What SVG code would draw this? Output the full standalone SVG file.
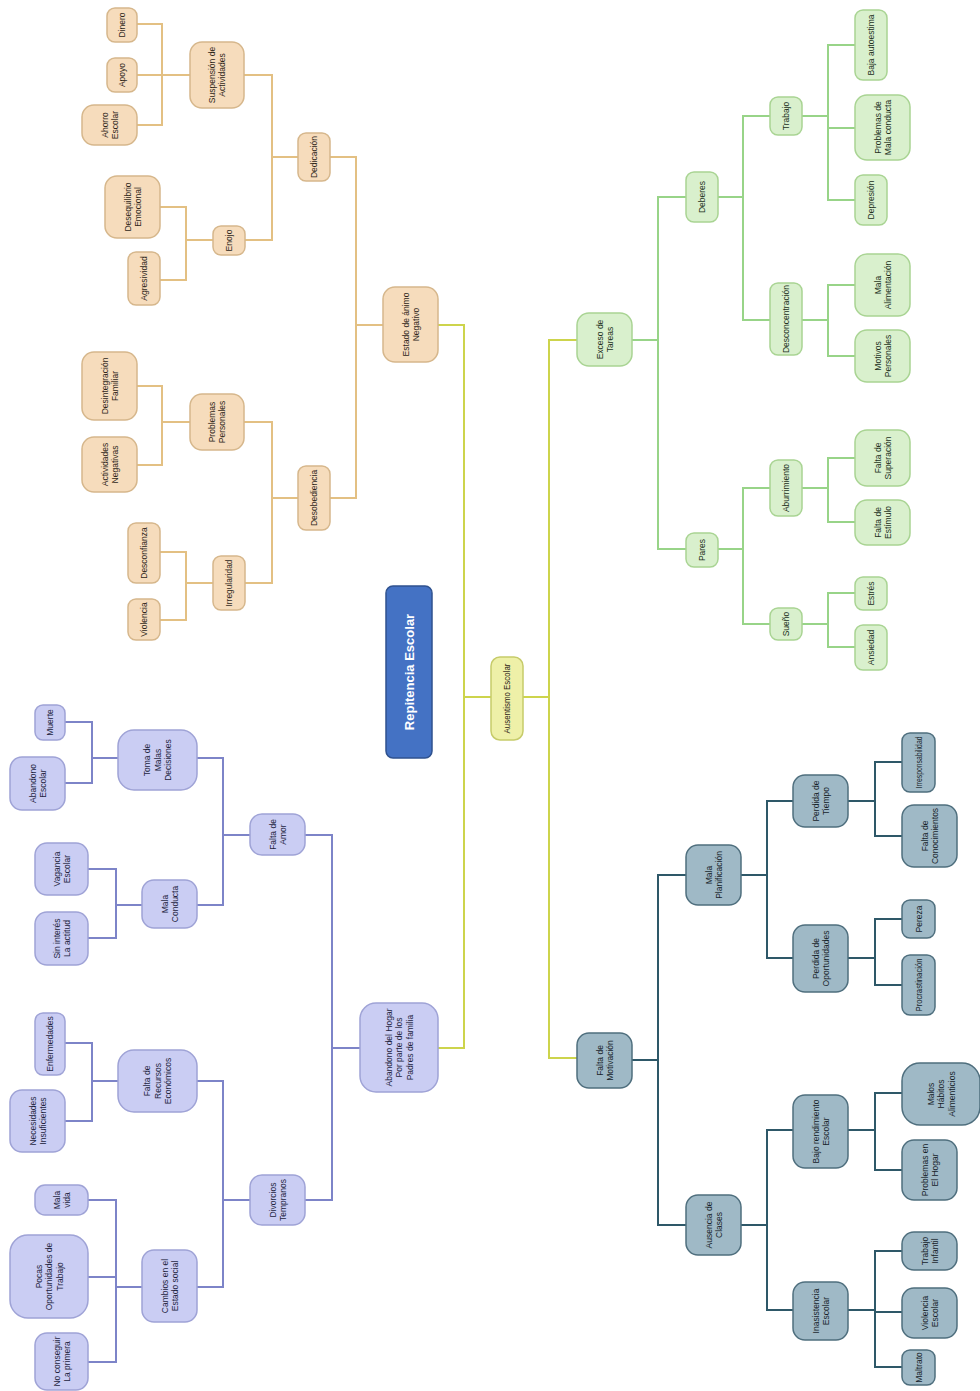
<svg xmlns="http://www.w3.org/2000/svg" width="980" height="1391" viewBox="0 0 980 1391">
<style>
.t{font-family:"Liberation Sans",Arial,sans-serif;font-size:8.5px;text-anchor:middle;dominant-baseline:central;fill:#2e2619}
.o rect{fill:#f6dcbc;stroke:#d6b78c;stroke-width:1.5}
.b rect{fill:#cacdf3;stroke:#9fa3d6;stroke-width:1.5}
.g rect{fill:#d9f0cd;stroke:#a9d493;stroke-width:1.5}
.k rect{fill:#9fb9c6;stroke:#4f6f7e;stroke-width:1.5}
.k text{fill:#17242a}
.b text{fill:#22243e}
.g text{fill:#22301c}
#connectors path{fill:none;stroke-width:2}
.co{stroke:#e3c083}
.cb{stroke:#7d84c8}
.cg{stroke:#98d488}
.ck{stroke:#2e5868}
.cy{stroke:#cdd44c}
</style>
<rect width="980" height="1391" fill="#ffffff"/>
<g id="connectors">
<path class="cy" d="M438,325 H464 V1048 H438"/>
<path class="cy" d="M464,697 H491 M523,697 H549"/>
<path class="cy" d="M577,340 H549 V1058 H577"/>
<path class="co" d="M383,325 H356 M330,157 H356 V498 H330"/>
<path class="co" d="M298,157 H272 M244,75 H272 V240 H245"/>
<path class="co" d="M190,75 H162 M137,24 H162 V125 H137 M137,75 H162"/>
<path class="co" d="M213,240 H186 M160,207 H186 V280 H160"/>
<path class="co" d="M298,498 H272 M244,422 H272 V583 H245"/>
<path class="co" d="M190,422 H162 M137,386 H162 V465 H137"/>
<path class="co" d="M213,583 H186 M160,552 H186 V620 H160"/>
<path class="cb" d="M360,1048 H332 M305,835 H332 V1200 H305"/>
<path class="cb" d="M250,835 H223 M197,758 H223 V905 H197"/>
<path class="cb" d="M118,758 H92 M65,722 H92 V783 H65"/>
<path class="cb" d="M142,905 H116 M88,869 H116 V938 H88"/>
<path class="cb" d="M250,1200 H223 M197,1081 H223 V1287 H197"/>
<path class="cb" d="M118,1081 H92 M65,1043 H92 V1121 H65"/>
<path class="cb" d="M142,1287 H116 M88,1200 H116 V1362 H88 M88,1277 H116"/>
<path class="cg" d="M632,340 H658 M686,197 H658 V549 H686"/>
<path class="cg" d="M718,197 H743 M770,116 H743 V320 H770"/>
<path class="cg" d="M802,116 H828 M855,45 H828 V200 H855 M855,128 H828"/>
<path class="cg" d="M802,320 H828 M855,285 H828 V356 H855"/>
<path class="cg" d="M718,549 H743 M770,488 H743 V624 H770"/>
<path class="cg" d="M802,488 H828 M855,458 H828 V522 H855"/>
<path class="cg" d="M802,624 H828 M855,593 H828 V647 H855"/>
<path class="ck" d="M632,1060 H658 M686,875 H658 V1225 H686"/>
<path class="ck" d="M741,875 H767 M793,801 H767 V958 H793"/>
<path class="ck" d="M848,801 H875 M902,762 H875 V836 H902"/>
<path class="ck" d="M848,958 H875 M902,919 H875 V985 H902"/>
<path class="ck" d="M741,1225 H767 M793,1130 H767 V1310 H793"/>
<path class="ck" d="M848,1130 H875 M902,1093 H875 V1170 H902"/>
<path class="ck" d="M848,1310 H875 M902,1251 H875 V1367 H902 M902,1312 H875"/>
</g>

<g id="root">
<rect x="386" y="586" width="46" height="172" rx="7" fill="#4472c4" stroke="#2f528f" stroke-width="1.5"/>
<text transform="translate(409,672) rotate(-90)" style="font-family:'Liberation Sans',Arial,sans-serif;font-size:13px;font-weight:bold;fill:#ffffff;text-anchor:middle;dominant-baseline:central">Repitencia Escolar</text>
</g>
<g id="ausentismo">
<rect x="491" y="657" width="32" height="83" rx="9" fill="#eef0a8" stroke="#c6cb6a" stroke-width="1.5"/>
<text class="t" transform="translate(507,698.5) rotate(-90)" textLength="70" lengthAdjust="spacingAndGlyphs">Ausentismo Escolar</text>
</g>

<!-- Orange branch -->
<g id="estado" class="o"><rect x="383" y="287" width="55" height="75" rx="12"/><text class="t" transform="translate(410.5,324.5) rotate(-90)"><tspan x="0" y="-5">Estado de ánimo</tspan><tspan x="0" y="5">Negativo</tspan></text></g>
<g id="dedicacion" class="o"><rect x="298" y="133" width="32" height="48" rx="8"/><text class="t" transform="translate(314,157) rotate(-90)">Dedicación</text></g>
<g id="desobediencia" class="o"><rect x="298" y="466" width="32" height="64" rx="8"/><text class="t" transform="translate(314,498) rotate(-90)">Desobediencia</text></g>
<g id="suspension" class="o"><rect x="190" y="42" width="54" height="66" rx="12"/><text class="t" transform="translate(217,75) rotate(-90)"><tspan x="0" y="-5">Suspensión de</tspan><tspan x="0" y="5">Actividades</tspan></text></g>
<g id="enojo" class="o"><rect x="213" y="226" width="32" height="29" rx="8"/><text class="t" transform="translate(229,240.5) rotate(-90)">Enojo</text></g>
<g id="dinero" class="o"><rect x="107" y="8" width="30" height="34" rx="8"/><text class="t" transform="translate(122,25) rotate(-90)">Dinero</text></g>
<g id="apoyo" class="o"><rect x="107" y="58" width="30" height="34" rx="8"/><text class="t" transform="translate(122,75) rotate(-90)">Apoyo</text></g>
<g id="ahorro" class="o"><rect x="82" y="105" width="55" height="40" rx="12"/><text class="t" transform="translate(109.5,125) rotate(-90)"><tspan x="0" y="-5">Ahorro</tspan><tspan x="0" y="5">Escolar</tspan></text></g>
<g id="desequilibrio" class="o"><rect x="105" y="176" width="55" height="62" rx="12"/><text class="t" transform="translate(132.5,207) rotate(-90)"><tspan x="0" y="-5">Desequilibrio</tspan><tspan x="0" y="5">Emocional</tspan></text></g>
<g id="agresividad" class="o"><rect x="128" y="252" width="32" height="53" rx="8"/><text class="t" transform="translate(144,278.5) rotate(-90)">Agresividad</text></g>
<g id="problemas-personales" class="o"><rect x="190" y="394" width="54" height="56" rx="12"/><text class="t" transform="translate(217,422) rotate(-90)"><tspan x="0" y="-5">Problemas</tspan><tspan x="0" y="5">Personales</tspan></text></g>
<g id="irregularidad" class="o"><rect x="213" y="556" width="32" height="54" rx="8"/><text class="t" transform="translate(229,583) rotate(-90)" textLength="47" lengthAdjust="spacingAndGlyphs">Irregularidad</text></g>
<g id="desintegracion" class="o"><rect x="82" y="352" width="55" height="68" rx="12"/><text class="t" transform="translate(109.5,386) rotate(-90)"><tspan x="0" y="-5">Desintegración</tspan><tspan x="0" y="5">Familiar</tspan></text></g>
<g id="actividades-negativas" class="o"><rect x="82" y="437" width="55" height="55" rx="12"/><text class="t" transform="translate(109.5,464.5) rotate(-90)"><tspan x="0" y="-5">Actividades</tspan><tspan x="0" y="5">Negativas</tspan></text></g>
<g id="desconfianza" class="o"><rect x="128" y="523" width="32" height="60" rx="8"/><text class="t" transform="translate(144,553) rotate(-90)">Desconfianza</text></g>
<g id="violencia" class="o"><rect x="128" y="599" width="32" height="41" rx="8"/><text class="t" transform="translate(144,619.5) rotate(-90)">Violencia</text></g>

<!-- Blue branch -->
<g id="abandono-hogar" class="b"><rect x="360" y="1003" width="78" height="89" rx="16"/><text class="t" transform="translate(399,1047.5) rotate(-90)"><tspan x="0" y="-10.5">Abandono del Hogar</tspan><tspan x="0" y="0">Por parte de los</tspan><tspan x="0" y="10.5">Padres de familia</tspan></text></g>
<g id="falta-amor" class="b"><rect x="250" y="814" width="55" height="41" rx="12"/><text class="t" transform="translate(277.5,834.5) rotate(-90)"><tspan x="0" y="-5">Falta de</tspan><tspan x="0" y="5">Amor</tspan></text></g>
<g id="divorcios" class="b"><rect x="250" y="1175" width="55" height="50" rx="12"/><text class="t" transform="translate(277.5,1200) rotate(-90)"><tspan x="0" y="-5">Divorcios</tspan><tspan x="0" y="5">Tempranos</tspan></text></g>
<g id="toma-decisiones" class="b"><rect x="118" y="730" width="79" height="60" rx="16"/><text class="t" transform="translate(157.5,760) rotate(-90)"><tspan x="0" y="-10.5">Toma de</tspan><tspan x="0" y="0">Malas</tspan><tspan x="0" y="10.5">Decisiones</tspan></text></g>
<g id="mala-conducta" class="b"><rect x="142" y="880" width="55" height="48" rx="12"/><text class="t" transform="translate(169.5,904) rotate(-90)"><tspan x="0" y="-5">Mala</tspan><tspan x="0" y="5">Conducta</tspan></text></g>
<g id="muerte" class="b"><rect x="35" y="705" width="30" height="35" rx="8"/><text class="t" transform="translate(50,722.5) rotate(-90)">Muerte</text></g>
<g id="abandono-escolar" class="b"><rect x="10" y="757" width="55" height="53" rx="12"/><text class="t" transform="translate(37.5,783.5) rotate(-90)"><tspan x="0" y="-5">Abandono</tspan><tspan x="0" y="5">Escolar</tspan></text></g>
<g id="vagancia" class="b"><rect x="35" y="843" width="53" height="52" rx="12"/><text class="t" transform="translate(61.5,869) rotate(-90)"><tspan x="0" y="-5">Vagancia</tspan><tspan x="0" y="5">Escolar</tspan></text></g>
<g id="actitud" class="b"><rect x="35" y="912" width="53" height="53" rx="12"/><text class="t" transform="translate(61.5,938.5) rotate(-90)"><tspan x="0" y="-5">Sin interés</tspan><tspan x="0" y="5">La actitud</tspan></text></g>
<g id="falta-recursos" class="b"><rect x="118" y="1050" width="79" height="62" rx="16"/><text class="t" transform="translate(157.5,1081) rotate(-90)"><tspan x="0" y="-10.5">Falta de</tspan><tspan x="0" y="0">Recursos</tspan><tspan x="0" y="10.5">Económicos</tspan></text></g>
<g id="cambios" class="b"><rect x="142" y="1250" width="55" height="72" rx="12"/><text class="t" transform="translate(169.5,1286) rotate(-90)"><tspan x="0" y="-5">Cambios en el</tspan><tspan x="0" y="5">Estado social</tspan></text></g>
<g id="enfermedades" class="b"><rect x="35" y="1013" width="30" height="62" rx="8"/><text class="t" transform="translate(50,1044) rotate(-90)">Enfermedades</text></g>
<g id="necesidades" class="b"><rect x="10" y="1090" width="55" height="62" rx="12"/><text class="t" transform="translate(37.5,1121) rotate(-90)"><tspan x="0" y="-5">Necesidades</tspan><tspan x="0" y="5">Insuficientes</tspan></text></g>
<g id="mala-vida" class="b"><rect x="35" y="1185" width="53" height="30" rx="10"/><text class="t" transform="translate(61.5,1200) rotate(-90)"><tspan x="0" y="-5">Mala</tspan><tspan x="0" y="5">vida</tspan></text></g>
<g id="pocas-oportunidades" class="b"><rect x="10" y="1235" width="78" height="83" rx="18"/><text class="t" transform="translate(49,1276.5) rotate(-90)"><tspan x="0" y="-10.5">Pocas</tspan><tspan x="0" y="0">Oportunidades de</tspan><tspan x="0" y="10.5">Trabajo</tspan></text></g>
<g id="no-conseguir" class="b"><rect x="35" y="1333" width="53" height="57" rx="12"/><text class="t" transform="translate(61.5,1361.5) rotate(-90)"><tspan x="0" y="-5">No conseguir</tspan><tspan x="0" y="5">La primera</tspan></text></g>

<!-- Green branch -->
<g id="exceso" class="g"><rect x="577" y="313" width="55" height="53" rx="12"/><text class="t" transform="translate(604.5,339.5) rotate(-90)"><tspan x="0" y="-5">Exceso de</tspan><tspan x="0" y="5">Tareas</tspan></text></g>
<g id="deberes" class="g"><rect x="686" y="172" width="32" height="50" rx="8"/><text class="t" transform="translate(702,197) rotate(-90)">Deberes</text></g>
<g id="pares" class="g"><rect x="686" y="533" width="32" height="34" rx="8"/><text class="t" transform="translate(702,550) rotate(-90)">Pares</text></g>
<g id="trabajo" class="g"><rect x="770" y="97" width="32" height="38" rx="8"/><text class="t" transform="translate(786,116) rotate(-90)">Trabajo</text></g>
<g id="desconcentracion" class="g"><rect x="770" y="283" width="32" height="72" rx="8"/><text class="t" transform="translate(786,319) rotate(-90)">Desconcentración</text></g>
<g id="baja-autoestima" class="g"><rect x="855" y="10" width="32" height="70" rx="8"/><text class="t" transform="translate(871,45) rotate(-90)">Baja autoestima</text></g>
<g id="problemas-mala-conducta" class="g"><rect x="855" y="95" width="55" height="65" rx="12"/><text class="t" transform="translate(882.5,127.5) rotate(-90)"><tspan x="0" y="-5">Problemas de</tspan><tspan x="0" y="5">Mala conducta</tspan></text></g>
<g id="depresion" class="g"><rect x="855" y="175" width="32" height="50" rx="8"/><text class="t" transform="translate(871,200) rotate(-90)">Depresión</text></g>
<g id="mala-alimentacion" class="g"><rect x="855" y="254" width="55" height="62" rx="12"/><text class="t" transform="translate(882.5,285) rotate(-90)"><tspan x="0" y="-5">Mala</tspan><tspan x="0" y="5">Alimentación</tspan></text></g>
<g id="motivos" class="g"><rect x="855" y="330" width="55" height="52" rx="12"/><text class="t" transform="translate(882.5,356) rotate(-90)"><tspan x="0" y="-5">Motivos</tspan><tspan x="0" y="5">Personales</tspan></text></g>
<g id="aburrimiento" class="g"><rect x="770" y="460" width="32" height="56" rx="8"/><text class="t" transform="translate(786,488) rotate(-90)">Aburrimiento</text></g>
<g id="sueno" class="g"><rect x="770" y="608" width="32" height="32" rx="8"/><text class="t" transform="translate(786,624) rotate(-90)">Sueño</text></g>
<g id="falta-superacion" class="g"><rect x="855" y="430" width="55" height="56" rx="12"/><text class="t" transform="translate(882.5,458) rotate(-90)"><tspan x="0" y="-5">Falta de</tspan><tspan x="0" y="5">Superación</tspan></text></g>
<g id="falta-estimulo" class="g"><rect x="855" y="500" width="55" height="45" rx="12"/><text class="t" transform="translate(882.5,522.5) rotate(-90)"><tspan x="0" y="-5">Falta de</tspan><tspan x="0" y="5">Estímulo</tspan></text></g>
<g id="estres" class="g"><rect x="855" y="577" width="32" height="33" rx="8"/><text class="t" transform="translate(871,593.5) rotate(-90)">Estrés</text></g>
<g id="ansiedad" class="g"><rect x="855" y="625" width="32" height="45" rx="8"/><text class="t" transform="translate(871,647.5) rotate(-90)">Ansiedad</text></g>

<!-- Teal branch -->
<g id="falta-motivacion" class="k"><rect x="577" y="1033" width="55" height="55" rx="12"/><text class="t" transform="translate(604.5,1060.5) rotate(-90)"><tspan x="0" y="-5">Falta de</tspan><tspan x="0" y="5">Motivación</tspan></text></g>
<g id="mala-planificacion" class="k"><rect x="686" y="845" width="55" height="60" rx="12"/><text class="t" transform="translate(713.5,875) rotate(-90)"><tspan x="0" y="-5">Mala</tspan><tspan x="0" y="5">Planificación</tspan></text></g>
<g id="ausencia-clases" class="k"><rect x="686" y="1195" width="55" height="60" rx="12"/><text class="t" transform="translate(713.5,1225) rotate(-90)"><tspan x="0" y="-5">Ausencia de</tspan><tspan x="0" y="5">Clases</tspan></text></g>
<g id="perdida-tiempo" class="k"><rect x="793" y="775" width="55" height="52" rx="12"/><text class="t" transform="translate(820.5,801) rotate(-90)"><tspan x="0" y="-5">Perdida de</tspan><tspan x="0" y="5">Tiempo</tspan></text></g>
<g id="perdida-oportunidades" class="k"><rect x="793" y="925" width="55" height="67" rx="12"/><text class="t" transform="translate(820.5,958.5) rotate(-90)"><tspan x="0" y="-5">Perdida de</tspan><tspan x="0" y="5">Oportunidades</tspan></text></g>
<g id="irresponsabilidad" class="k"><rect x="902" y="733" width="33" height="59" rx="8"/><text class="t" transform="translate(918.5,762.5) rotate(-90)" textLength="52" lengthAdjust="spacingAndGlyphs">Irresponsabilidad</text></g>
<g id="falta-conocimientos" class="k"><rect x="902" y="805" width="55" height="62" rx="12"/><text class="t" transform="translate(929.5,836) rotate(-90)"><tspan x="0" y="-5">Falta de</tspan><tspan x="0" y="5">Conocimientos</tspan></text></g>
<g id="pereza" class="k"><rect x="902" y="900" width="33" height="38" rx="8"/><text class="t" transform="translate(918.5,919) rotate(-90)">Pereza</text></g>
<g id="procrastinacion" class="k"><rect x="902" y="955" width="33" height="60" rx="8"/><text class="t" transform="translate(918.5,985) rotate(-90)" textLength="53" lengthAdjust="spacingAndGlyphs">Procrastinación</text></g>
<g id="bajo-rendimiento" class="k"><rect x="793" y="1095" width="55" height="73" rx="12"/><text class="t" transform="translate(820.5,1131.5) rotate(-90)"><tspan x="0" y="-5">Bajo rendimiento</tspan><tspan x="0" y="5">Escolar</tspan></text></g>
<g id="inasistencia" class="k"><rect x="793" y="1282" width="55" height="58" rx="12"/><text class="t" transform="translate(820.5,1311) rotate(-90)"><tspan x="0" y="-5">Inasistencia</tspan><tspan x="0" y="5">Escolar</tspan></text></g>
<g id="malos-habitos" class="k"><rect x="902" y="1063" width="78" height="62" rx="18"/><text class="t" transform="translate(941,1094) rotate(-90)"><tspan x="0" y="-10.5">Malos</tspan><tspan x="0" y="0">Hábitos</tspan><tspan x="0" y="10.5">Alimenticios</tspan></text></g>
<g id="problemas-hogar" class="k"><rect x="902" y="1140" width="55" height="60" rx="12"/><text class="t" transform="translate(929.5,1170) rotate(-90)"><tspan x="0" y="-5">Problemas en</tspan><tspan x="0" y="5">El Hogar</tspan></text></g>
<g id="trabajo-infantil" class="k"><rect x="902" y="1232" width="55" height="38" rx="12"/><text class="t" transform="translate(929.5,1251) rotate(-90)"><tspan x="0" y="-5">Trabajo</tspan><tspan x="0" y="5">Infantil</tspan></text></g>
<g id="violencia-escolar" class="k"><rect x="902" y="1288" width="55" height="50" rx="12"/><text class="t" transform="translate(929.5,1313) rotate(-90)"><tspan x="0" y="-5">Violencia</tspan><tspan x="0" y="5">Escolar</tspan></text></g>
<g id="maltrato" class="k"><rect x="902" y="1350" width="33" height="35" rx="8"/><text class="t" transform="translate(918.5,1367.5) rotate(-90)">Maltrato</text></g>
</svg>
